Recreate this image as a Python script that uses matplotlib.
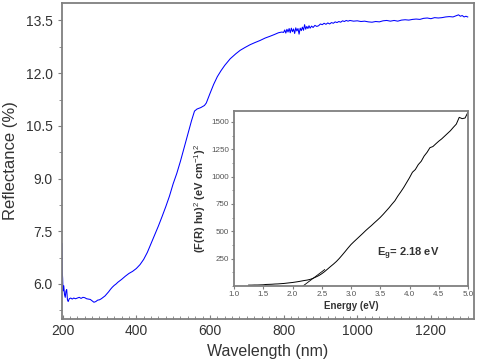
import matplotlib
matplotlib.use("Agg")
import matplotlib.pyplot as plt
from matplotlib.ticker import MultipleLocator

plt.rcParams['font.family'] = ['Liberation Sans', 'DejaVu Sans']
plt.rcParams['mathtext.fontset'] = 'custom'
plt.rcParams['mathtext.rm'] = 'Liberation Sans'
plt.rcParams['mathtext.bf'] = 'Liberation Sans:bold'

# reflectance spectrum
wavelength = [198, 199, 200, 201, 203, 205, 207, 209, 211, 213, 215, 218, 222, 226,
              230, 235, 240, 245, 250, 255, 260, 265, 270, 275, 280, 285, 290, 295,
              300, 305, 310, 315, 320, 325, 330, 335, 340, 345, 350, 355, 360, 370,
              380, 390, 400, 410, 420, 430, 440, 450, 460, 470, 480, 490, 500, 510,
              520, 530, 540, 550, 558, 565, 575, 585, 590, 600, 610, 620, 630, 640,
              655, 670, 682, 695, 709, 722, 736, 750, 763, 775, 786, 795, 800, 803,
              806, 809, 812, 815, 818, 821, 824, 827, 830, 833, 836, 839, 842, 845,
              848, 851, 854, 857, 860, 863, 866, 869, 872, 876, 880, 885, 890, 895,
              900, 905, 910, 915, 920, 925, 930, 935, 940, 945, 950, 955, 960, 965,
              970, 975, 980, 990, 1000, 1010, 1020, 1030, 1040, 1050, 1060, 1070,
              1080, 1090, 1100, 1110, 1120, 1130, 1140, 1150, 1160, 1170, 1180, 1190,
              1200, 1210, 1220, 1230, 1240, 1250, 1260, 1270, 1275, 1280, 1285, 1290,
              1295, 1300]
reflectance = [7.15, 6.35, 6.15, 5.80, 5.95, 5.70, 5.62, 5.80, 5.84, 5.55, 5.50, 5.58,
               5.60, 5.57, 5.60, 5.58, 5.60, 5.62, 5.59, 5.62, 5.61, 5.58, 5.57, 5.56,
               5.52, 5.48, 5.50, 5.54, 5.55, 5.58, 5.62, 5.66, 5.72, 5.78, 5.85, 5.91,
               5.96, 6.00, 6.05, 6.09, 6.13, 6.22, 6.30, 6.36, 6.44, 6.55, 6.70, 6.90,
               7.15, 7.40, 7.65, 7.92, 8.20, 8.50, 8.85, 9.15, 9.50, 9.88, 10.25, 10.65,
               10.92, 10.98, 11.02, 11.08, 11.15, 11.42, 11.68, 11.90, 12.07, 12.22,
               12.41, 12.55, 12.65, 12.73, 12.81, 12.87, 12.93, 13.00, 13.05, 13.10,
               13.15, 13.17, 13.16, 13.23, 13.14, 13.25, 13.17, 13.27, 13.15, 13.28,
               13.18, 13.26, 13.13, 13.29, 13.20, 13.27, 13.11, 13.28, 13.21, 13.31,
               13.22, 13.38, 13.25, 13.33, 13.27, 13.35, 13.28, 13.34, 13.30, 13.36,
               13.33, 13.35, 13.40, 13.38, 13.42, 13.39, 13.43, 13.40, 13.44,
               13.42, 13.46, 13.44, 13.47, 13.45, 13.49, 13.47, 13.50, 13.48, 13.50,
               13.48, 13.49, 13.47, 13.48, 13.46, 13.45, 13.47, 13.46, 13.49, 13.50,
               13.48, 13.50, 13.48, 13.51, 13.52, 13.51, 13.53, 13.54, 13.53, 13.56,
               13.57, 13.55, 13.58, 13.57, 13.58, 13.60, 13.61, 13.60, 13.64, 13.66,
               13.62, 13.64, 13.60, 13.62, 13.60]

# Tauc plot (inset)
energy = [1.25, 1.30, 1.35, 1.40, 1.45, 1.50, 1.55, 1.60, 1.65, 1.70, 1.75, 1.80,
          1.85, 1.90, 1.95, 2.00, 2.05, 2.10, 2.15, 2.20, 2.25, 2.30, 2.35, 2.40,
          2.45, 2.50, 2.55, 2.60, 2.65, 2.70, 2.75, 2.80, 2.85, 2.90, 2.95, 3.00,
          3.05, 3.10, 3.15, 3.20, 3.25, 3.30, 3.35, 3.40, 3.45, 3.50, 3.55, 3.60,
          3.65, 3.70, 3.75, 3.80, 3.85, 3.90, 3.95, 4.00, 4.05, 4.10, 4.15, 4.20,
          4.25, 4.30, 4.35, 4.40, 4.45, 4.50, 4.55, 4.60, 4.65, 4.70, 4.75, 4.80,
          4.85, 4.90, 4.95, 5.00]
tauc = [8, 8, 9, 9, 10, 11, 14, 15, 16, 18, 19, 21, 23, 26, 29, 32, 36, 40, 45, 50,
        54, 60, 70, 82, 95, 112, 132, 155, 178, 200, 224, 252, 283, 315, 348, 379,
        405, 430, 455, 480, 506, 530, 553, 578, 602, 627, 655, 685, 715, 748, 779,
        822, 860, 900, 945, 990, 1040, 1065, 1110, 1140, 1188, 1222, 1265, 1275,
        1300, 1324, 1345, 1370, 1395, 1420, 1451, 1480, 1542, 1530, 1536, 1590]
fit_e = [2.18, 2.55]
fit_y = [0, 150]

spine_col = '#7f7f7f'
text_col = '#333333'

fig = plt.figure(figsize=(4.8, 3.61), dpi=100)
ax = fig.add_axes([0.129, 0.116, 0.8585, 0.876])
ax.plot(wavelength, reflectance, color='#0000ff', lw=0.75)
ax.set_xlim(198, 1317)
ax.set_ylim(5.0, 14.0)
ax.xaxis.set_major_locator(MultipleLocator(200))
ax.xaxis.set_minor_locator(MultipleLocator(20))
ax.yaxis.set_major_locator(MultipleLocator(1.5))
ax.yaxis.set_minor_locator(MultipleLocator(0.75))
ax.yaxis.set_major_formatter(plt.FormatStrFormatter('%.1f'))
for s in ax.spines.values():
    s.set_color(spine_col)
    s.set_linewidth(1.3)
ax.tick_params(axis='x', which='both', direction='in', colors=spine_col,
               labelcolor=text_col, labelsize=10)
ax.tick_params(axis='x', which='major', length=3)
ax.tick_params(axis='x', which='minor', length=2)
ax.tick_params(axis='y', which='both', direction='out', colors=spine_col,
               labelcolor=text_col, labelsize=10)
ax.tick_params(axis='y', which='major', length=3)
ax.tick_params(axis='y', which='minor', length=2)
ax.set_xlabel('Wavelength (nm)', fontsize=11.5, color=text_col, labelpad=4)
ax.set_ylabel('Reflectance (%)', fontsize=12, color=text_col, labelpad=6)

ins = fig.add_axes([0.4875, 0.2078, 0.4875, 0.4847])
ins.plot(energy, tauc, color='black', lw=0.7)
ins.plot(fit_e, fit_y, color='black', lw=0.6)
ins.set_xlim(1.0, 5.0)
ins.set_ylim(0, 1600)
ins.xaxis.set_major_locator(MultipleLocator(0.5))
ins.yaxis.set_major_locator(MultipleLocator(250))
ins.yaxis.set_minor_locator(MultipleLocator(125))
ins.set_yticks([250, 500, 750, 1000, 1250, 1500])
ins.xaxis.set_major_formatter(plt.FormatStrFormatter('%.1f'))
for s in ins.spines.values():
    s.set_color(spine_col)
    s.set_linewidth(1.3)
ins.tick_params(which='both', direction='out', colors=spine_col,
                labelcolor='#555555', labelsize=5.8, pad=1.5)
ins.tick_params(which='major', length=2)
ins.tick_params(which='minor', length=1.2)
ins.set_xlabel('Energy (eV)', fontsize=7, fontweight='bold', color=text_col, labelpad=2)
ins.set_ylabel(r'(F(R) hυ)$^{2}$ (eV cm$^{-1}$)$^{2}$', fontsize=8,
               fontweight='bold', color=text_col, labelpad=2)
ins.text(3.45, 290, r'E$_{\mathbf{g}}$= 2.18 eV', fontsize=8, fontweight='bold',
         color=text_col, va='center')

fig.savefig('out.png', dpi=100)
